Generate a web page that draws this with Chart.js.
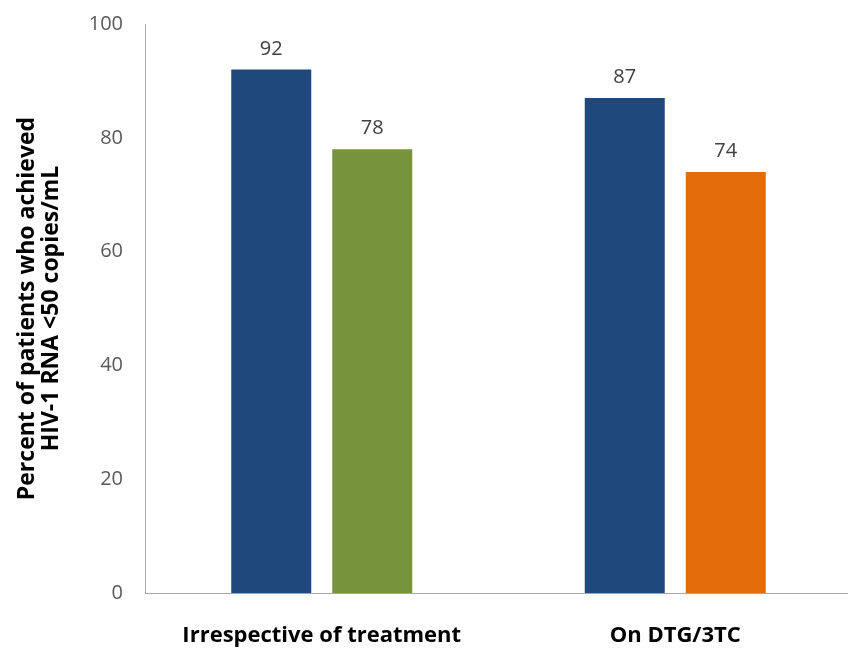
<!DOCTYPE html>
<html>
<head>
<meta charset="utf-8">
<script src="https://cdn.jsdelivr.net/npm/chart.js@4/dist/chart.umd.min.js"></script>
<style>
html,body{margin:0;padding:0;background:#fff;overflow:hidden;}
canvas{display:block;}
</style>
</head>
<body>
<canvas id="c" width="852" height="648"></canvas>
<script>
const categories = ["Irrespective of treatment", "On DTG/3TC"];
const firstBarValues = [92, 87];
const secondBarValues = [78, 74];
const firstBarColors = ["#1F497D", "#1F497D"];
const secondBarColors = ["#77933C", "#E36C0A"];
const yTicks = [0, 20, 40, 60, 80, 100];
const yTitle = ["Percent of patients who achieved", "HIV-1 RNA <50 copies/mL"];

const labelPlugin = {
  id: 'barLabels',
  afterDatasetsDraw(chart) {
    const ctx = chart.ctx;
    ctx.save();
    ctx.font = '20px "Open Sans", sans-serif';
    ctx.fillStyle = '#404040';
    ctx.textAlign = 'center';
    ctx.textBaseline = 'alphabetic';
    chart.data.datasets.forEach((ds, i) => {
      chart.getDatasetMeta(i).data.forEach((el, j) => {
        ctx.fillText(String(ds.data[j]), el.x, el.y - 15);
      });
    });
    ctx.restore();
  }
};

new Chart(document.getElementById('c'), {
  type: 'bar',
  data: {
    labels: categories,
    datasets: [
      { data: firstBarValues, backgroundColor: firstBarColors, borderWidth: 0 },
      { data: secondBarValues, backgroundColor: secondBarColors, borderWidth: 0 }
    ]
  },
  options: {
    responsive: false,
    animation: false,
    devicePixelRatio: 1,
    categoryPercentage: 0.5714,
    barPercentage: 0.792,
    layout: { padding: { top: 24, right: 0, left: 0, bottom: 0 } },
    plugins: { legend: { display: false }, tooltip: { enabled: false } },
    scales: {
      y: {
        min: 0, max: 100,
        afterBuildTicks(scale) { scale.ticks = yTicks.map(v => ({ value: v })); },
        afterFit(scale) { scale.width = 145; scale.paddingTop = 0; scale.paddingBottom = 0; },
        grid: { display: false, drawTicks: false },
        border: { display: true, color: '#A6A6A6', width: 1 },
        ticks: { padding: 22, color: '#595959', font: { family: '"Open Sans", sans-serif', size: 20 } },
        title: {
          display: true,
          text: yTitle,
          color: '#000',
          font: { family: '"Open Sans", sans-serif', size: 23, weight: 'bold', lineHeight: 1.05 },
          padding: { top: 15, bottom: 0 }
        }
      },
      x: {
        afterFit(scale) { scale.height = 55; },
        grid: { display: false, drawTicks: false },
        border: { display: true, color: '#A6A6A6', width: 1 },
        ticks: { padding: 30, color: '#000', font: { family: '"Open Sans", sans-serif', size: 22, weight: 'bold' } }
      }
    }
  },
  plugins: [labelPlugin]
});
</script>
</body>
</html>
